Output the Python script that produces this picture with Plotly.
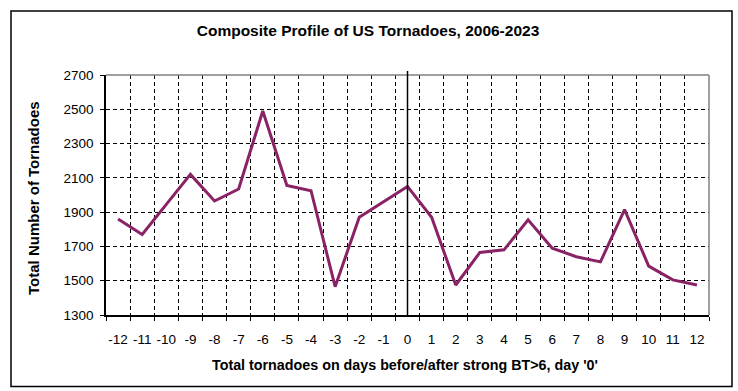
import plotly.graph_objects as go

# ---- data ----
days = list(range(-12, 13))
tornado_totals = [1860, 1770, 1945, 2120, 1965, 2035, 2490, 2055, 2025, 1465,
                  1870, 1960, 2050, 1870, 1475, 1665, 1680, 1855, 1690, 1640,
                  1610, 1915, 1585, 1505, 1475]
day_labels = [str(d) for d in days]
y_ticks = [1300, 1500, 1700, 1900, 2100, 2300, 2500, 2700]

title_text = "Composite Profile of US Tornadoes, 2006-2023"
x_title = "Total tornadoes on days before/after strong BT>6, day '0'"
y_title = "Total Number of Tornadoes"

# ---- layout geometry (pixels) ----
W, H = 738, 391
L, R, T, B = 106, 709, 75, 315
FONT = "Liberation Sans, Arial, sans-serif"


def px_x(p):
    return (p - L) / (R - L)


def px_y(p):
    return (B - p) / (B - T)


fig = go.Figure()
fig.add_trace(go.Scatter(
    x=day_labels, y=tornado_totals, mode="lines",
    line=dict(color="#8A2266", width=3),
    hoverinfo="x+y", showlegend=False,
))

grid = dict(showgrid=True, gridcolor="black", gridwidth=1, griddash="4px,3px")

fig.update_xaxes(
    type="category", categoryorder="array", categoryarray=day_labels,
    range=[-0.5, len(days) - 0.5], automargin=False, tickangle=0,
    tickson="boundaries", ticks="outside", ticklen=4, tickcolor="black",
    showline=True, linecolor="black", linewidth=1.5,
    tickfont=dict(family=FONT, size=13.5, color="black"),
    ticklabelstandoff=11,
    **grid,
)
fig.update_yaxes(
    range=[1300, 2700], tickvals=y_ticks, automargin=False,
    ticks="outside", ticklen=4, tickcolor="black",
    showline=True, linecolor="black", linewidth=1.5, zeroline=False,
    tickfont=dict(family=FONT, size=13.5, color="black"),
    ticklabelstandoff=4,
    **grid,
)

zero_idx = days.index(0)
shapes = [
    # outer chart border
    dict(type="rect", xref="paper", yref="paper",
         x0=px_x(11), x1=px_x(732), y0=px_y(386.5), y1=px_y(11),
         line=dict(color="black", width=1.5), layer="below"),
    # gray plot-area border (top & right)
    dict(type="line", xref="paper", yref="paper", x0=0, x1=1, y0=1, y1=1,
         line=dict(color="#808080", width=1.5)),
    dict(type="line", xref="paper", yref="paper", x0=1, x1=1, y0=0, y1=1,
         line=dict(color="#808080", width=1.5)),
    # day-0 reference line
    dict(type="line", xref="x", yref="paper", x0=zero_idx, x1=zero_idx,
         y0=0, y1=px_y(71), line=dict(color="black", width=1.5)),
]

annotations = [
    dict(text=f"<b>{x_title}</b>", xref="paper", yref="paper",
         x=px_x(405), y=px_y(364.5), showarrow=False,
         xanchor="center", yanchor="middle",
         font=dict(family=FONT, size=14.3, color="black")),
    dict(text=f"<b>{y_title}</b>", xref="paper", yref="paper",
         x=px_x(33), y=px_y(198), showarrow=False, textangle=-90,
         xanchor="center", yanchor="middle",
         font=dict(family=FONT, size=15, color="black")),
]

fig.update_layout(
    width=W, height=H,
    margin=dict(l=L, r=W - R, t=T, b=H - B, pad=0, autoexpand=False),
    paper_bgcolor="white", plot_bgcolor="white",
    title=dict(text=f"<b>{title_text}</b>", xref="container", yref="container",
               x=368 / W, y=(H - 31) / H, xanchor="center", yanchor="middle",
               font=dict(family=FONT, size=15.5, color="black")),
    shapes=shapes, annotations=annotations,
)

fig.write_html(
    "out.html",
    config={"displayModeBar": False},
    post_script="document.body.style.margin='0';document.body.style.overflow='hidden';",
)
